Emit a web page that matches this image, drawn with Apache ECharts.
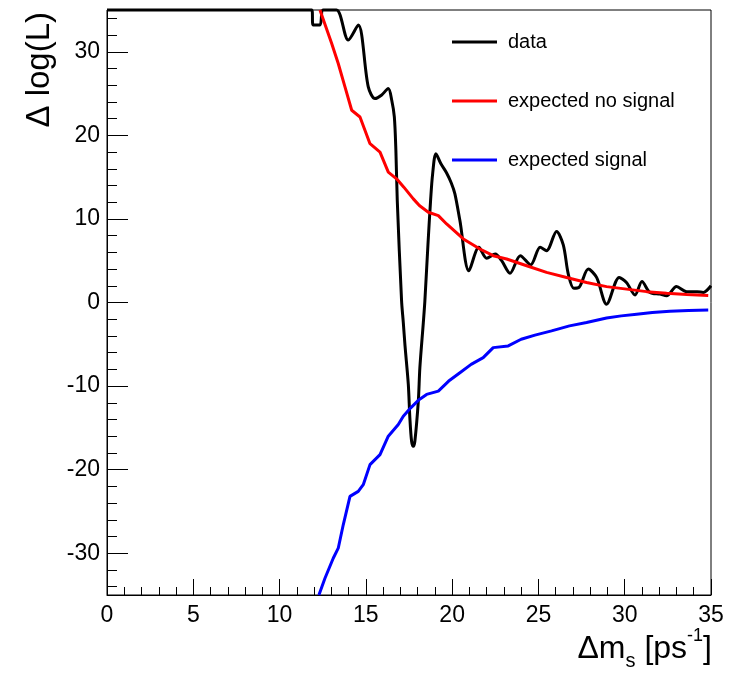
<!DOCTYPE html>
<html>
<head>
<meta charset="utf-8">
<script src="https://cdn.jsdelivr.net/npm/echarts@6/dist/echarts.min.js"></script>
<style>
html, body { margin: 0; padding: 0; background: #fff; }
#chart { width: 735px; height: 675px; }
</style>
</head>
<body>
<div id="chart"></div>
<script>
// Likelihood scan versus the oscillation frequency (values at the top edge are clipped at 35)
const dataX = [0, 11.86, 11.95, 12.34, 12.53, 13.3, 13.98, 14.56, 15.14, 15.53, 15.9, 16.3, 16.5, 16.65, 16.74, 16.82, 17.07, 17.17, 17.27, 17.46, 17.55, 17.65, 17.75, 17.84, 18.04, 18.13, 18.33, 18.42, 18.6, 18.75, 18.87, 19.06, 19.35, 19.68, 19.95, 20.16, 20.45, 20.97, 21.55, 22.0, 22.5, 22.87, 23.35, 23.95, 24.55, 25.1, 25.47, 26.05, 26.44, 26.73, 27.05, 27.35, 27.89, 28.37, 28.95, 29.68, 30.1, 30.6, 31.0, 31.46, 32.04, 32.43, 33.0, 33.59, 34.2, 34.55, 35.0];
const dataY = [35, 35, 33.2, 33.2, 35, 35, 31.4, 33.2, 25.8, 24.4, 24.8, 25.6, 24.2, 22.2, 18.2, 12.2, 0.2, -2.4, -5.2, -9.8, -13.8, -16.6, -17.2, -16.6, -11.8, -7.8, -2.4, 0.2, 7.0, 12.2, 15.4, 17.8, 16.6, 15.5, 14.3, 13.0, 9.8, 3.8, 6.6, 5.3, 5.8, 5.0, 3.5, 5.6, 4.5, 6.6, 6.2, 8.5, 6.9, 3.4, 1.7, 1.8, 4.0, 3.0, -0.2, 3.0, 2.4, 0.9, 2.5, 1.2, 1.0, 0.8, 1.9, 1.3, 1.3, 1.2, 2.0];

const noSigX = [12.34, 13.02, 13.4, 13.79, 14.18, 14.66, 15.24, 15.82, 16.3, 16.78, 17.2, 17.75, 18.1, 18.62, 19.2, 19.68, 20.65, 21.61, 22.38, 23.16, 24.32, 25.47, 26.63, 27.79, 28.95, 30.11, 31.27, 32.43, 33.59, 34.84];
const noSigY = [35, 31.0, 28.6, 25.8, 23.0, 22.2, 19.0, 18.0, 15.6, 14.8, 13.8, 12.4, 11.6, 10.8, 10.4, 9.4, 7.6, 6.4, 5.6, 5.2, 4.4, 3.6, 3.0, 2.4, 1.9, 1.6, 1.3, 1.1, 0.95, 0.85];

const sigX = [12.28, 12.63, 13.11, 13.4, 13.69, 14.08, 14.56, 14.85, 15.24, 15.82, 16.3, 16.88, 17.17, 17.6, 18.1, 18.52, 19.2, 19.8, 20.45, 21.1, 21.8, 22.38, 23.25, 24.0, 24.8, 25.76, 26.8, 27.79, 28.95, 29.8, 30.69, 31.6, 32.62, 33.7, 34.84];
const sigY = [-35, -33, -30.6, -29.4, -26.6, -23.2, -22.6, -21.8, -19.4, -18.2, -16.0, -14.6, -13.6, -12.6, -11.6, -11.0, -10.6, -9.4, -8.4, -7.4, -6.6, -5.4, -5.2, -4.4, -3.9, -3.4, -2.8, -2.4, -1.85, -1.6, -1.4, -1.2, -1.05, -0.95, -0.9];

const seriesNames = ['data', 'expected no signal', 'expected signal'];
const seriesColors = ['#000000', '#ff0000', '#0000ff'];

const xTicks = [0, 5, 10, 15, 20, 25, 30, 35];
const yMajor = [-30, -20, -10, 0, 10, 20, 30];
const yMinor = [];
for (let v = -34; v <= 34; v += 2) yMinor.push(v);

const pairs = (xs, ys) => xs.map((x, i) => [x, ys[i]]);
const FONT = '"Liberation Sans", Arial, Helvetica, sans-serif';

const chart = echarts.init(document.getElementById('chart'), null, { renderer: 'canvas' });

chart.setOption({
  animation: false,
  backgroundColor: '#ffffff',
  grid: {
    left: 107, right: 24, top: 10, bottom: 80,
    show: true, borderColor: '#000', borderWidth: 1, backgroundColor: 'transparent'
  },
  legend: {
    orient: 'vertical',
    left: 452,
    top: 31,
    padding: 0,
    itemWidth: 45,
    itemHeight: 3,
    itemGap: 37,
    icon: 'path://M0,0 L45,0 L45,3 L0,3 Z',
    itemStyle: { borderWidth: 0 },
    data: seriesNames,
    textStyle: { fontFamily: FONT, fontSize: 20, color: '#000', lineHeight: 22, padding: [0, 0, 0, 6] }
  },
  xAxis: {
    type: 'value',
    min: xTicks[0],
    max: xTicks[xTicks.length - 1],
    interval: 5,
    axisLine: { show: true, onZero: false, lineStyle: { color: '#000', width: 1 } },
    axisTick: { show: true, inside: true, length: 16, lineStyle: { color: '#000', width: 1 } },
    minorTick: { show: true, splitNumber: 5, length: 8, lineStyle: { color: '#000', width: 1 } },
    axisLabel: { fontFamily: FONT, fontSize: 23, color: '#000', margin: 9 },
    splitLine: { show: false }
  },
  yAxis: [
    {
      type: 'value',
      min: -35,
      max: 35,
      axisLine: { show: true, onZero: false, lineStyle: { color: '#000', width: 1 } },
      axisTick: { show: true, inside: true, length: 21, customValues: yMajor, lineStyle: { color: '#000', width: 1 } },
      axisLabel: { fontFamily: FONT, fontSize: 23, color: '#000', margin: 7, customValues: yMajor },
      splitLine: { show: false }
    },
    {
      type: 'value',
      position: 'left',
      min: -35,
      max: 35,
      axisLine: { show: false },
      axisTick: { show: true, inside: true, length: 10, customValues: yMinor, lineStyle: { color: '#000', width: 1 } },
      axisLabel: { show: false },
      splitLine: { show: false }
    }
  ],
  series: [
    {
      name: seriesNames[0], type: 'line', symbol: 'none', smooth: 0.3, clip: false,
      data: pairs(dataX, dataY),
      lineStyle: { color: seriesColors[0], width: 3 }, itemStyle: { color: seriesColors[0] }, z: 3
    },
    {
      name: seriesNames[1], type: 'line', symbol: 'none', clip: false,
      data: pairs(noSigX, noSigY),
      lineStyle: { color: seriesColors[1], width: 3 }, itemStyle: { color: seriesColors[1] }, z: 4
    },
    {
      name: seriesNames[2], type: 'line', symbol: 'none', clip: false,
      data: pairs(sigX, sigY),
      lineStyle: { color: seriesColors[2], width: 3 }, itemStyle: { color: seriesColors[2] }, z: 4
    }
  ],
  graphic: [
    {
      type: 'text',
      x: 40, y: 12,
      rotation: Math.PI / 2,
      style: {
        text: 'Δ log(L)',
        font: '33px ' + FONT,
        fill: '#000',
        align: 'right',
        verticalAlign: 'middle'
      }
    },
    {
      type: 'text',
      x: 712, y: 627,
      style: {
        text: '{a|Δm}{s|s}{a| [ps}{p|-1}{a|]}',
        align: 'right',
        verticalAlign: 'top',
        rich: {
          a: { fontFamily: FONT, fontSize: 32, fill: '#000', lineHeight: 44, verticalAlign: 'middle' },
          s: { fontFamily: FONT, fontSize: 20, fill: '#000', lineHeight: 20, verticalAlign: 'bottom' },
          p: { fontFamily: FONT, fontSize: 18, fill: '#000', lineHeight: 18, verticalAlign: 'top' }
        }
      }
    }
  ]
});
</script>
</body>
</html>
